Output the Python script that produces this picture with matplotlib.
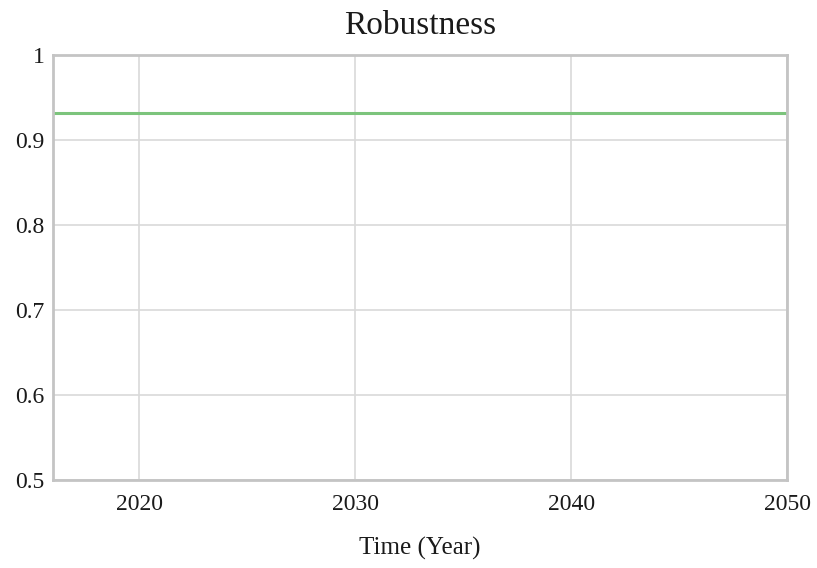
import matplotlib.pyplot as plt

# data
years = [2016, 2020, 2030, 2040, 2050]
robustness = [0.932, 0.932, 0.932, 0.932, 0.932]

x_ticks = [2020, 2030, 2040, 2050]
y_ticks = [0.5, 0.6, 0.7, 0.8, 0.9, 1]
y_labels = ['0.5', '0.6', '0.7', '0.8', '0.9', '1']

plt.rcParams['font.family'] = ['Liberation Serif', 'DejaVu Serif']

fig = plt.figure(figsize=(8.17, 5.68), dpi=100)
ax = fig.add_axes([0.0649, 0.1549, 0.8984, 0.7483])

ax.plot(years, robustness, color='#7cc47c', linewidth=2.2, solid_capstyle='butt')

ax.set_xlim(2016, 2050)
ax.set_ylim(0.5, 1)
ax.set_xticks(x_ticks)
ax.set_yticks(y_ticks)
ax.set_yticklabels(y_labels)
ax.tick_params(length=0, labelsize=17, colors='#1a1a1a')
ax.tick_params(axis='x', pad=10)
ax.tick_params(axis='y', pad=6)
ax.grid(True, color='#d9d9d9', linewidth=1.2)
ax.set_axisbelow(True)
for s in ax.spines.values():
    s.set_color('#c4c4c4')
    s.set_linewidth(2)

ax.set_title('Robustness', fontsize=24, pad=15, color='#1a1a1a')
ax.set_xlabel('Time (Year)', fontsize=18, labelpad=16, color='#1a1a1a')

fig.savefig('out.png', dpi=100)
